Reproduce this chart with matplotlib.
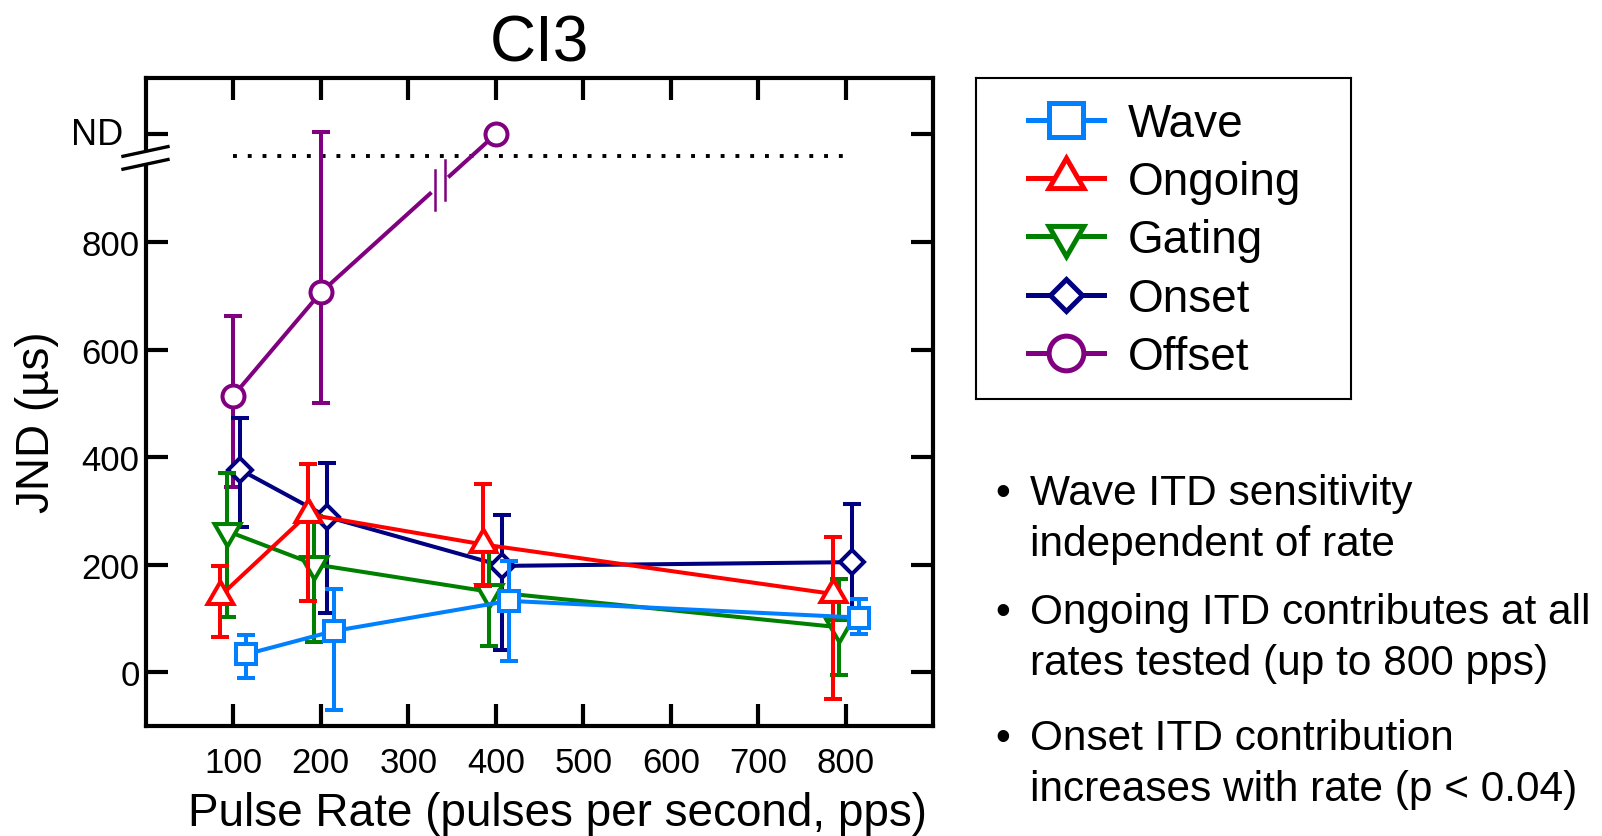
import numpy as np
import matplotlib
matplotlib.use('Agg')
import matplotlib.pyplot as plt
from matplotlib.lines import Line2D

plt.rcParams['font.family'] = ['Liberation Sans', 'DejaVu Sans']

# data (JND in microseconds)
rates = [100, 200, 400, 800]
ND = 1000       # "not determined" plotted at the ND tick
ND_LINE = 960   # dotted line just under the axis break

names = ['Wave', 'Ongoing', 'Gating', 'Onset', 'Offset']

wave = [34, 77, 133, 102]
wave_up = [35, 79, 74, 35]
wave_dn = [45, 147, 112, 31]

ongoing = [142, 294, 238, 146]
ongoing_up = [55, 94, 113, 106]
ongoing_dn = [77, 161, 77, 196]

gating = [263, 201, 150, 84]
gating_up = [108, 89, 79, 89]
gating_dn = [160, 145, 101, 88]

onset = [377, 289, 198, 205]
onset_up = [95, 101, 95, 108]
onset_dn = [107, 178, 157, 107]

offset = [514, 706, ND]
offset_up = [149, 299, np.nan]
offset_dn = [170, 206, np.nan]

bullets = [
    ('Wave ITD sensitivity', 'independent of rate'),
    ('Ongoing ITD contributes at all', 'rates tested (up to 800 pps)'),
    ('Onset ITD contribution', 'increases with rate (p < 0.04)'),
]

# styles
colors = ['#0080ff', '#ff0000', '#008000', '#000080', '#800080']
markers = ['s', (3, 0, 0), (3, 0, 180), 'D', 'o']
msizes = [14.6, 21.5, 21.5, 11.8, 15.8]
leg_msizes = [25, 29, 29, 16.3, 25]
x_shift = [15, -15, -7.5, 7.5, 0]

fig = plt.figure(figsize=(16.02, 8.37), dpi=100)
ax = fig.add_axes([145.8 / 1602, 1 - 727.3 / 837, 787.5 / 1602, 648.6 / 837])

all_y = [wave, ongoing, gating, onset, offset]
all_up = [wave_up, ongoing_up, gating_up, onset_up, offset_up]
all_dn = [wave_dn, ongoing_dn, gating_dn, onset_dn, offset_dn]

for i in range(len(names)):
    y = all_y[i]
    x = np.array(rates[:len(y)], float) + x_shift[i]
    ax.errorbar(x, y, yerr=[all_dn[i], all_up[i]], color=colors[i], lw=2.9,
                marker=markers[i], ms=msizes[i], mfc='white', mec=colors[i],
                mew=2.9, elinewidth=2.9, capsize=6.5, capthick=3.3, zorder=10 - i)

# dotted ND threshold line
ax.plot([rates[0], rates[-1]], [ND_LINE, ND_LINE], color='black', lw=2.8,
        linestyle=(0, (1, 2.8)), zorder=1)

# break marks on the offset line
ox = np.array(rates[:3], float) + x_shift[4]
brk_x, gap = 336, 6
ax.plot([brk_x - gap, brk_x + gap],
        [np.interp(brk_x - gap, ox, offset), np.interp(brk_x + gap, ox, offset)],
        color='white', lw=6, zorder=6.5)
for xx in (brk_x - gap, brk_x + gap):
    yy = np.interp(xx, ox, offset)
    ax.plot([xx, xx], [yy - 37, yy + 37], color=colors[4], lw=1.8, zorder=6.6)

ax.set_xlim(0, 900)
ax.set_ylim(-100, 1105)
ax.set_xticks(range(100, 900, 100))
ax.set_yticks([0, 200, 400, 600, 800, ND])
ax.set_yticklabels(['0', '200', '400', '600', '800', ''])
ax.tick_params(direction='in', length=16, width=3, top=True, right=True,
               labelsize=25)
ax.tick_params(axis='x', pad=14)
ax.tick_params(axis='y', pad=4.5)
for sp in ax.spines.values():
    sp.set_linewidth(3)

# ND label and axis break on the left spine
tr = ax.get_yaxis_transform()
ax.text(-0.029, ND, 'ND', transform=tr, ha='right', va='center', fontsize=26)
bx = [-0.029, 0.0282]
ax.fill([bx[0], bx[1], bx[1], bx[0]], [959, 977, 953, 935], color='white',
        transform=tr, clip_on=False, zorder=20, lw=0)
ax.plot(bx, [959, 977], color='black', lw=2.4, transform=tr, clip_on=False, zorder=21)
ax.plot(bx, [935, 953], color='black', lw=2.4, transform=tr, clip_on=False, zorder=21)

ax.set_title('CI3', fontsize=46, y=1 + (78.7 - 61.3) / 648.6, va='baseline', pad=0)
ax.set_xlabel('Pulse Rate (pulses per second, pps)', fontsize=33)
ax.xaxis.set_label_coords(0.5234, -0.1522)
ax.xaxis.label.set_va('baseline')
ax.set_ylabel('JND (µs)', fontsize=33)
ax.yaxis.set_label_coords(-0.138, 0.470)
ax.yaxis.label.set_va('center')

# legend in its own framed box
lax = fig.add_axes([976 / 1602, 1 - 400 / 837, 375 / 1602, 321 / 837])
lax.set_xticks([])
lax.set_yticks([])
for sp in lax.spines.values():
    sp.set_linewidth(1.5)
handles = [Line2D([], [], color=colors[i], lw=3.6, marker=markers[i],
                  ms=leg_msizes[i], mfc='white', mec=colors[i], mew=3.6)
           for i in range(len(names))]
lax.legend(handles, names, loc='center left', bbox_to_anchor=(0.1387, 0.494),
           frameon=False, fontsize=33, handlelength=1.66, handletextpad=0.52,
           labelspacing=0.31, borderpad=0, borderaxespad=0)

# bullet notes
first_base = [505, 624, 750]
for (l1, l2), b in zip(bullets, first_base):
    fig.text(995 / 1602, 1 - b / 837, '•', fontsize=30.5, va='baseline')
    fig.text(1030 / 1602, 1 - b / 837, l1, fontsize=30.5, va='baseline')
    fig.text(1030 / 1602, 1 - (b + 51) / 837, l2, fontsize=30.5, va='baseline')

fig.savefig('out.png', dpi=100)
